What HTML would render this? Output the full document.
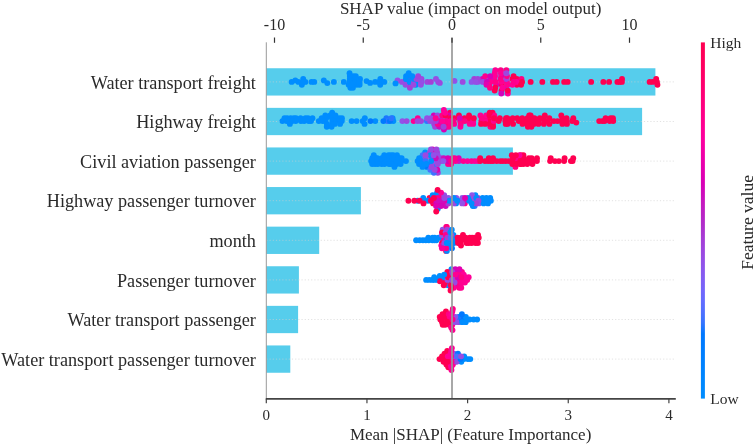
<!DOCTYPE html>
<html><head><meta charset="utf-8"><style>
html,body{margin:0;padding:0;background:#fff;width:754px;height:445px;overflow:hidden}
svg{display:block;filter:blur(0.35px)}
text{font-family:"Liberation Serif",serif;fill:#2a2a2a}
</style></head><body>
<svg width="754" height="445" viewBox="0 0 754 445">
<defs><linearGradient id="cb" x1="0" y1="0" x2="0" y2="1"><stop offset="0.000" stop-color="#ff0051"/><stop offset="0.030" stop-color="#ff0058"/><stop offset="0.061" stop-color="#ff005f"/><stop offset="0.091" stop-color="#ff0067"/><stop offset="0.121" stop-color="#ff0070"/><stop offset="0.152" stop-color="#ff0078"/><stop offset="0.182" stop-color="#ff0082"/><stop offset="0.212" stop-color="#ff008b"/><stop offset="0.242" stop-color="#ff0096"/><stop offset="0.273" stop-color="#fc009f"/><stop offset="0.303" stop-color="#f400a5"/><stop offset="0.333" stop-color="#eb00ab"/><stop offset="0.364" stop-color="#e200b1"/><stop offset="0.394" stop-color="#d900b6"/><stop offset="0.424" stop-color="#ce0cbc"/><stop offset="0.455" stop-color="#c41ac0"/><stop offset="0.485" stop-color="#b824c5"/><stop offset="0.515" stop-color="#af2fcb"/><stop offset="0.545" stop-color="#a73bd4"/><stop offset="0.576" stop-color="#9f45dd"/><stop offset="0.606" stop-color="#964ee5"/><stop offset="0.636" stop-color="#8c57ed"/><stop offset="0.667" stop-color="#805ff4"/><stop offset="0.697" stop-color="#7366fb"/><stop offset="0.727" stop-color="#636cff"/><stop offset="0.758" stop-color="#4f70ff"/><stop offset="0.788" stop-color="#3574ff"/><stop offset="0.818" stop-color="#0078ff"/><stop offset="0.848" stop-color="#007bff"/><stop offset="0.879" stop-color="#007fff"/><stop offset="0.909" stop-color="#0082ff"/><stop offset="0.939" stop-color="#0086ff"/><stop offset="0.970" stop-color="#0089ff"/><stop offset="1.000" stop-color="#008dff"/><stop offset="1" stop-color="#008dff"/></linearGradient></defs>
<rect x="266.3" y="68.25" width="389.10" height="27.3" fill="#56cdec"/>
<line x1="266.3" y1="81.90" x2="675.5" y2="81.90" stroke="#cfcfcf" stroke-width="0.6" stroke-dasharray="1.2 2"/>
<rect x="266.3" y="107.85" width="375.80" height="27.3" fill="#56cdec"/>
<line x1="266.3" y1="121.50" x2="675.5" y2="121.50" stroke="#cfcfcf" stroke-width="0.6" stroke-dasharray="1.2 2"/>
<rect x="266.3" y="147.45" width="246.60" height="27.3" fill="#56cdec"/>
<line x1="266.3" y1="161.10" x2="675.5" y2="161.10" stroke="#cfcfcf" stroke-width="0.6" stroke-dasharray="1.2 2"/>
<rect x="266.3" y="187.05" width="94.60" height="27.3" fill="#56cdec"/>
<line x1="266.3" y1="200.70" x2="675.5" y2="200.70" stroke="#cfcfcf" stroke-width="0.6" stroke-dasharray="1.2 2"/>
<rect x="266.3" y="226.65" width="52.90" height="27.3" fill="#56cdec"/>
<line x1="266.3" y1="240.30" x2="675.5" y2="240.30" stroke="#cfcfcf" stroke-width="0.6" stroke-dasharray="1.2 2"/>
<rect x="266.3" y="266.25" width="32.60" height="27.3" fill="#56cdec"/>
<line x1="266.3" y1="279.90" x2="675.5" y2="279.90" stroke="#cfcfcf" stroke-width="0.6" stroke-dasharray="1.2 2"/>
<rect x="266.3" y="305.85" width="31.80" height="27.3" fill="#56cdec"/>
<line x1="266.3" y1="319.50" x2="675.5" y2="319.50" stroke="#cfcfcf" stroke-width="0.6" stroke-dasharray="1.2 2"/>
<rect x="266.3" y="345.45" width="24.00" height="27.3" fill="#56cdec"/>
<line x1="266.3" y1="359.10" x2="675.5" y2="359.10" stroke="#cfcfcf" stroke-width="0.6" stroke-dasharray="1.2 2"/>
<circle cx="451.97" cy="248.25" r="2.95" fill="#0078ff"/>
<circle cx="444.87" cy="240.30" r="2.95" fill="#9351e8"/>
<circle cx="430.53" cy="164.00" r="2.95" fill="#1a77ff"/>
<circle cx="531.64" cy="158.20" r="2.95" fill="#ff0051"/>
<circle cx="474.77" cy="161.10" r="2.95" fill="#fe009d"/>
<circle cx="446.79" cy="126.70" r="2.95" fill="#d900b6"/>
<circle cx="454.16" cy="123.90" r="2.95" fill="#ff0096"/>
<circle cx="474.21" cy="79.00" r="2.95" fill="#a53fd7"/>
<circle cx="494.05" cy="79.00" r="2.95" fill="#fe009d"/>
<circle cx="314.26" cy="81.90" r="2.95" fill="#008dff"/>
<circle cx="490.37" cy="126.70" r="2.95" fill="#ff0085"/>
<circle cx="532.84" cy="161.10" r="2.95" fill="#ff0051"/>
<circle cx="458.96" cy="115.50" r="2.95" fill="#ff0051"/>
<circle cx="493.12" cy="126.70" r="2.95" fill="#ff0051"/>
<circle cx="458.87" cy="274.60" r="2.95" fill="#ff0082"/>
<circle cx="421.15" cy="158.20" r="2.95" fill="#008dff"/>
<circle cx="452.36" cy="158.20" r="2.95" fill="#ff0096"/>
<circle cx="458.77" cy="322.15" r="2.95" fill="#994be2"/>
<circle cx="485.92" cy="79.00" r="2.95" fill="#964ee5"/>
<circle cx="448.59" cy="245.60" r="2.95" fill="#a242da"/>
<circle cx="410.53" cy="84.80" r="2.95" fill="#008dff"/>
<circle cx="456.06" cy="285.20" r="2.95" fill="#ff0051"/>
<circle cx="379.24" cy="161.10" r="2.95" fill="#008dff"/>
<circle cx="440.86" cy="158.20" r="2.95" fill="#a242da"/>
<circle cx="421.51" cy="79.00" r="2.95" fill="#9c48e0"/>
<circle cx="501.87" cy="84.80" r="2.95" fill="#ff0051"/>
<circle cx="437.04" cy="152.40" r="2.95" fill="#a242da"/>
<circle cx="603.35" cy="81.90" r="2.95" fill="#ff0051"/>
<circle cx="339.22" cy="121.10" r="2.95" fill="#008dff"/>
<circle cx="469.71" cy="123.90" r="2.95" fill="#ff0096"/>
<circle cx="461.41" cy="240.30" r="2.95" fill="#ff0051"/>
<circle cx="469.06" cy="115.50" r="2.95" fill="#ff0051"/>
<circle cx="455.25" cy="319.50" r="2.95" fill="#cb11bd"/>
<circle cx="490.58" cy="79.00" r="2.95" fill="#cb11bd"/>
<circle cx="528.95" cy="121.10" r="2.95" fill="#ff0051"/>
<circle cx="350.38" cy="87.70" r="2.95" fill="#008dff"/>
<circle cx="442.94" cy="240.30" r="2.95" fill="#8f54ea"/>
<circle cx="523.43" cy="155.30" r="2.95" fill="#ff0051"/>
<circle cx="445.66" cy="203.40" r="2.95" fill="#ff0099"/>
<circle cx="591.13" cy="81.90" r="2.95" fill="#ff0051"/>
<circle cx="456.09" cy="203.40" r="2.95" fill="#008dff"/>
<circle cx="396.67" cy="164.00" r="2.95" fill="#008dff"/>
<circle cx="493.05" cy="158.20" r="2.95" fill="#ff0051"/>
<circle cx="448.69" cy="364.60" r="2.95" fill="#ff0092"/>
<circle cx="454.54" cy="361.85" r="2.95" fill="#ff0085"/>
<circle cx="440.34" cy="319.50" r="2.95" fill="#ff0051"/>
<circle cx="433.51" cy="164.00" r="2.95" fill="#9c48e0"/>
<circle cx="375.29" cy="121.10" r="2.95" fill="#008dff"/>
<circle cx="496.72" cy="161.10" r="2.95" fill="#ff0051"/>
<circle cx="619.61" cy="81.90" r="2.95" fill="#ff0051"/>
<circle cx="482.42" cy="79.00" r="2.95" fill="#e200b1"/>
<circle cx="282.41" cy="121.10" r="2.95" fill="#008dff"/>
<circle cx="450.68" cy="274.60" r="2.95" fill="#008dff"/>
<circle cx="443.92" cy="129.50" r="2.95" fill="#d900b6"/>
<circle cx="496.21" cy="84.80" r="2.95" fill="#dc00b5"/>
<circle cx="332.31" cy="121.10" r="2.95" fill="#008dff"/>
<circle cx="382.03" cy="161.10" r="2.95" fill="#008dff"/>
<circle cx="475.38" cy="195.30" r="2.95" fill="#008dff"/>
<circle cx="353.11" cy="79.00" r="2.95" fill="#008dff"/>
<circle cx="433.60" cy="166.90" r="2.95" fill="#8f54ea"/>
<circle cx="477.95" cy="198.00" r="2.95" fill="#a242da"/>
<circle cx="482.58" cy="198.00" r="2.95" fill="#008dff"/>
<circle cx="442.86" cy="359.10" r="2.95" fill="#ff0051"/>
<circle cx="527.42" cy="123.90" r="2.95" fill="#ff0051"/>
<circle cx="464.79" cy="203.40" r="2.95" fill="#ff0092"/>
<circle cx="562.45" cy="118.30" r="2.95" fill="#ff0051"/>
<circle cx="494.77" cy="73.20" r="2.95" fill="#ff0092"/>
<circle cx="348.66" cy="84.80" r="2.95" fill="#008dff"/>
<circle cx="478.76" cy="237.65" r="2.95" fill="#ff0051"/>
<circle cx="516.80" cy="79.00" r="2.95" fill="#ff0051"/>
<circle cx="562.42" cy="123.90" r="2.95" fill="#ff0051"/>
<circle cx="454.75" cy="237.65" r="2.95" fill="#008dff"/>
<circle cx="452.80" cy="308.90" r="2.95" fill="#ff0085"/>
<circle cx="443.78" cy="158.20" r="2.95" fill="#cb11bd"/>
<circle cx="447.14" cy="282.55" r="2.95" fill="#9c48e0"/>
<circle cx="440.30" cy="278.60" r="2.95" fill="#ff0051"/>
<circle cx="397.52" cy="80.50" r="2.95" fill="#9351e8"/>
<circle cx="656.91" cy="81.90" r="2.95" fill="#ff0051"/>
<circle cx="466.59" cy="242.95" r="2.95" fill="#ff0051"/>
<circle cx="381.63" cy="164.00" r="2.95" fill="#008dff"/>
<circle cx="460.22" cy="121.10" r="2.95" fill="#ff0088"/>
<circle cx="380.21" cy="84.80" r="2.95" fill="#008dff"/>
<circle cx="484.71" cy="118.30" r="2.95" fill="#ff0051"/>
<circle cx="375.18" cy="81.90" r="2.95" fill="#008dff"/>
<circle cx="290.66" cy="118.30" r="2.95" fill="#008dff"/>
<circle cx="423.28" cy="200.70" r="2.95" fill="#ff0051"/>
<circle cx="371.14" cy="161.10" r="2.95" fill="#008dff"/>
<circle cx="413.58" cy="121.10" r="2.95" fill="#ff0092"/>
<circle cx="444.44" cy="356.35" r="2.95" fill="#ff0051"/>
<circle cx="445.69" cy="314.20" r="2.95" fill="#fe009d"/>
<circle cx="385.35" cy="161.10" r="2.95" fill="#008dff"/>
<circle cx="552.99" cy="81.90" r="2.95" fill="#ff0051"/>
<circle cx="433.80" cy="115.50" r="2.95" fill="#d500b8"/>
<circle cx="442.01" cy="242.95" r="2.95" fill="#ff0051"/>
<circle cx="516.81" cy="84.80" r="2.95" fill="#ff0051"/>
<circle cx="472.02" cy="195.30" r="2.95" fill="#8f54ea"/>
<circle cx="353.28" cy="81.90" r="2.95" fill="#008dff"/>
<circle cx="312.47" cy="118.30" r="2.95" fill="#008dff"/>
<circle cx="513.61" cy="76.10" r="2.95" fill="#ff0051"/>
<circle cx="448.01" cy="164.00" r="2.95" fill="#ff0092"/>
<circle cx="426.91" cy="121.10" r="2.95" fill="#3574ff"/>
<circle cx="477.13" cy="319.50" r="2.95" fill="#008dff"/>
<circle cx="477.65" cy="81.90" r="2.95" fill="#994be2"/>
<circle cx="446.20" cy="227.05" r="2.95" fill="#ff008f"/>
<circle cx="341.93" cy="118.30" r="2.95" fill="#008dff"/>
<circle cx="472.11" cy="237.65" r="2.95" fill="#ff0051"/>
<circle cx="359.61" cy="84.80" r="2.95" fill="#008dff"/>
<circle cx="539.79" cy="118.30" r="2.95" fill="#ff0051"/>
<circle cx="506.95" cy="81.90" r="2.95" fill="#ff0085"/>
<circle cx="490.86" cy="200.70" r="2.95" fill="#008dff"/>
<circle cx="481.39" cy="121.10" r="2.95" fill="#ff0051"/>
<circle cx="561.31" cy="115.50" r="2.95" fill="#ff0051"/>
<circle cx="417.66" cy="200.70" r="2.95" fill="#008dff"/>
<circle cx="402.42" cy="121.10" r="2.95" fill="#9351e8"/>
<circle cx="469.82" cy="237.65" r="2.95" fill="#ff0051"/>
<circle cx="454.09" cy="353.60" r="2.95" fill="#8f54ea"/>
<circle cx="318.79" cy="121.10" r="2.95" fill="#008dff"/>
<circle cx="452.49" cy="359.10" r="2.95" fill="#ff008f"/>
<circle cx="515.42" cy="166.90" r="2.95" fill="#ff0082"/>
<circle cx="452.32" cy="324.80" r="2.95" fill="#ff0092"/>
<circle cx="576.28" cy="122.60" r="2.95" fill="#ff0051"/>
<circle cx="455.78" cy="277.25" r="2.95" fill="#dc00b5"/>
<circle cx="492.55" cy="112.70" r="2.95" fill="#ff0051"/>
<circle cx="499.82" cy="118.30" r="2.95" fill="#ff0051"/>
<circle cx="468.67" cy="277.25" r="2.95" fill="#ff0096"/>
<circle cx="452.91" cy="200.70" r="2.95" fill="#9c48e0"/>
<circle cx="495.33" cy="70.30" r="2.95" fill="#ff0092"/>
<circle cx="457.96" cy="353.60" r="2.95" fill="#007aff"/>
<circle cx="444.71" cy="359.10" r="2.95" fill="#ff0051"/>
<circle cx="392.59" cy="118.30" r="2.95" fill="#008dff"/>
<circle cx="445.98" cy="237.65" r="2.95" fill="#008dff"/>
<circle cx="444.53" cy="353.60" r="2.95" fill="#ff0051"/>
<circle cx="460.40" cy="126.70" r="2.95" fill="#ff0099"/>
<circle cx="429.57" cy="198.00" r="2.95" fill="#ff0051"/>
<circle cx="432.44" cy="240.30" r="2.95" fill="#008dff"/>
<circle cx="450.98" cy="245.60" r="2.95" fill="#008dff"/>
<circle cx="441.16" cy="237.65" r="2.95" fill="#fe009d"/>
<circle cx="442.21" cy="198.00" r="2.95" fill="#ff008b"/>
<circle cx="519.76" cy="158.20" r="2.95" fill="#ff0051"/>
<circle cx="461.58" cy="316.85" r="2.95" fill="#9c48e0"/>
<circle cx="434.13" cy="123.90" r="2.95" fill="#a242da"/>
<circle cx="303.20" cy="79.00" r="2.95" fill="#008dff"/>
<circle cx="439.78" cy="275.95" r="2.95" fill="#008dff"/>
<circle cx="432.29" cy="279.90" r="2.95" fill="#008dff"/>
<circle cx="464.46" cy="118.30" r="2.95" fill="#ff0051"/>
<circle cx="325.37" cy="121.10" r="2.95" fill="#008dff"/>
<circle cx="447.11" cy="353.60" r="2.95" fill="#ff0051"/>
<circle cx="396.50" cy="158.20" r="2.95" fill="#008dff"/>
<circle cx="564.17" cy="81.90" r="2.95" fill="#ff0051"/>
<circle cx="564.60" cy="158.20" r="2.95" fill="#ff0051"/>
<circle cx="417.80" cy="81.90" r="2.95" fill="#008dff"/>
<circle cx="458.90" cy="161.10" r="2.95" fill="#c716bf"/>
<circle cx="439.74" cy="316.85" r="2.95" fill="#ff0051"/>
<circle cx="490.73" cy="161.10" r="2.95" fill="#ff0051"/>
<circle cx="447.22" cy="350.85" r="2.95" fill="#ff0051"/>
<circle cx="457.39" cy="319.50" r="2.95" fill="#9351e8"/>
<circle cx="657.44" cy="84.80" r="2.95" fill="#ff0051"/>
<circle cx="519.15" cy="161.10" r="2.95" fill="#ff0051"/>
<circle cx="441.86" cy="195.30" r="2.95" fill="#ff0085"/>
<circle cx="300.89" cy="121.10" r="2.95" fill="#008dff"/>
<circle cx="445.65" cy="206.10" r="2.95" fill="#ce0cbc"/>
<circle cx="366.55" cy="81.10" r="2.95" fill="#008dff"/>
<circle cx="441.30" cy="245.60" r="2.95" fill="#ff0096"/>
<circle cx="512.33" cy="164.00" r="2.95" fill="#ff0051"/>
<circle cx="334.32" cy="121.10" r="2.95" fill="#008dff"/>
<circle cx="375.64" cy="158.20" r="2.95" fill="#008dff"/>
<circle cx="454.97" cy="279.90" r="2.95" fill="#8f54ea"/>
<circle cx="435.09" cy="126.70" r="2.95" fill="#a242da"/>
<circle cx="564.11" cy="161.10" r="2.95" fill="#ff0051"/>
<circle cx="432.66" cy="237.65" r="2.95" fill="#008dff"/>
<circle cx="405.42" cy="81.90" r="2.95" fill="#008dff"/>
<circle cx="450.67" cy="353.60" r="2.95" fill="#ff0092"/>
<circle cx="422.92" cy="240.30" r="2.95" fill="#008dff"/>
<circle cx="467.85" cy="359.10" r="2.95" fill="#008dff"/>
<circle cx="501.54" cy="90.60" r="2.95" fill="#ff0051"/>
<circle cx="468.75" cy="121.10" r="2.95" fill="#ff0088"/>
<circle cx="456.20" cy="359.10" r="2.95" fill="#8f54ea"/>
<circle cx="425.17" cy="152.40" r="2.95" fill="#008dff"/>
<circle cx="523.13" cy="161.10" r="2.95" fill="#ff0051"/>
<circle cx="463.91" cy="359.10" r="2.95" fill="#008dff"/>
<circle cx="473.10" cy="240.30" r="2.95" fill="#ff0051"/>
<circle cx="460.27" cy="200.70" r="2.95" fill="#a242da"/>
<circle cx="461.47" cy="274.60" r="2.95" fill="#ff0096"/>
<circle cx="445.95" cy="311.55" r="2.95" fill="#ff0051"/>
<circle cx="450.10" cy="112.70" r="2.95" fill="#ff0051"/>
<circle cx="566.57" cy="118.30" r="2.95" fill="#ff0051"/>
<circle cx="492.96" cy="123.90" r="2.95" fill="#ff0051"/>
<circle cx="356.78" cy="84.80" r="2.95" fill="#008dff"/>
<circle cx="364.84" cy="118.30" r="2.95" fill="#008dff"/>
<circle cx="506.31" cy="79.00" r="2.95" fill="#a242da"/>
<circle cx="326.18" cy="118.30" r="2.95" fill="#008dff"/>
<circle cx="451.44" cy="370.10" r="2.95" fill="#ff0092"/>
<circle cx="447.33" cy="240.30" r="2.95" fill="#008dff"/>
<circle cx="441.18" cy="203.40" r="2.95" fill="#df00b3"/>
<circle cx="507.52" cy="123.90" r="2.95" fill="#ff0051"/>
<circle cx="460.66" cy="285.20" r="2.95" fill="#ff0096"/>
<circle cx="482.40" cy="200.70" r="2.95" fill="#008dff"/>
<circle cx="433.47" cy="152.40" r="2.95" fill="#9f45dd"/>
<circle cx="457.38" cy="285.20" r="2.95" fill="#dc00b5"/>
<circle cx="453.43" cy="235.00" r="2.95" fill="#008dff"/>
<circle cx="453.89" cy="287.85" r="2.95" fill="#ff0096"/>
<circle cx="430.07" cy="121.10" r="2.95" fill="#9f45dd"/>
<circle cx="381.73" cy="158.20" r="2.95" fill="#008dff"/>
<circle cx="464.16" cy="200.70" r="2.95" fill="#cb11bd"/>
<circle cx="553.86" cy="121.10" r="2.95" fill="#ff0051"/>
<circle cx="494.65" cy="90.60" r="2.95" fill="#ff0051"/>
<circle cx="538.90" cy="121.10" r="2.95" fill="#ff0051"/>
<circle cx="439.26" cy="118.30" r="2.95" fill="#9f45dd"/>
<circle cx="465.65" cy="319.50" r="2.95" fill="#008dff"/>
<circle cx="453.79" cy="359.10" r="2.95" fill="#fe009d"/>
<circle cx="477.99" cy="161.10" r="2.95" fill="#ff0096"/>
<circle cx="434.25" cy="161.10" r="2.95" fill="#8f54ea"/>
<circle cx="477.90" cy="242.95" r="2.95" fill="#ff0051"/>
<circle cx="397.00" cy="155.30" r="2.95" fill="#008dff"/>
<circle cx="531.99" cy="118.30" r="2.95" fill="#ff0051"/>
<circle cx="461.32" cy="361.85" r="2.95" fill="#008dff"/>
<circle cx="567.66" cy="81.90" r="2.95" fill="#ff0051"/>
<circle cx="513.06" cy="123.90" r="2.95" fill="#ff0051"/>
<circle cx="455.47" cy="161.10" r="2.95" fill="#ff0092"/>
<circle cx="354.77" cy="79.00" r="2.95" fill="#008dff"/>
<circle cx="506.00" cy="118.30" r="2.95" fill="#ff0051"/>
<circle cx="409.94" cy="79.00" r="2.95" fill="#a53fd7"/>
<circle cx="473.57" cy="200.70" r="2.95" fill="#008dff"/>
<circle cx="444.22" cy="195.30" r="2.95" fill="#964ee5"/>
<circle cx="500.74" cy="70.30" r="2.95" fill="#ff0088"/>
<circle cx="523.58" cy="121.10" r="2.95" fill="#ff0051"/>
<circle cx="441.86" cy="319.50" r="2.95" fill="#ff0051"/>
<circle cx="293.89" cy="118.30" r="2.95" fill="#008dff"/>
<circle cx="446.25" cy="316.85" r="2.95" fill="#ff0051"/>
<circle cx="467.16" cy="279.90" r="2.95" fill="#ff008f"/>
<circle cx="489.55" cy="118.30" r="2.95" fill="#ff0082"/>
<circle cx="461.34" cy="279.90" r="2.95" fill="#ff0088"/>
<circle cx="561.50" cy="121.10" r="2.95" fill="#ff0051"/>
<circle cx="448.73" cy="314.20" r="2.95" fill="#ff0085"/>
<circle cx="599.20" cy="121.10" r="2.95" fill="#ff0051"/>
<circle cx="386.36" cy="118.30" r="2.95" fill="#1a77ff"/>
<circle cx="480.46" cy="115.50" r="2.95" fill="#ff0096"/>
<circle cx="373.93" cy="161.10" r="2.95" fill="#008dff"/>
<circle cx="447.05" cy="319.50" r="2.95" fill="#ff0051"/>
<circle cx="511.80" cy="155.30" r="2.95" fill="#ff0051"/>
<circle cx="517.21" cy="118.30" r="2.95" fill="#ff0051"/>
<circle cx="325.31" cy="115.50" r="2.95" fill="#008dff"/>
<circle cx="527.90" cy="126.70" r="2.95" fill="#ff0051"/>
<circle cx="514.82" cy="161.10" r="2.95" fill="#ff0051"/>
<circle cx="446.06" cy="250.90" r="2.95" fill="#ff0051"/>
<circle cx="443.54" cy="361.85" r="2.95" fill="#ff0051"/>
<circle cx="387.31" cy="121.10" r="2.95" fill="#3574ff"/>
<circle cx="390.64" cy="164.00" r="2.95" fill="#008dff"/>
<circle cx="417.79" cy="118.30" r="2.95" fill="#ff0092"/>
<circle cx="438.20" cy="81.90" r="2.95" fill="#9c48e0"/>
<circle cx="321.64" cy="118.30" r="2.95" fill="#008dff"/>
<circle cx="458.29" cy="282.55" r="2.95" fill="#ff0085"/>
<circle cx="530.67" cy="81.90" r="2.95" fill="#ff0051"/>
<circle cx="447.04" cy="322.15" r="2.95" fill="#ff0051"/>
<circle cx="451.08" cy="164.00" r="2.95" fill="#ff0088"/>
<circle cx="349.83" cy="79.00" r="2.95" fill="#008dff"/>
<circle cx="334.85" cy="118.30" r="2.95" fill="#008dff"/>
<circle cx="454.29" cy="118.30" r="2.95" fill="#ff0051"/>
<circle cx="444.29" cy="112.70" r="2.95" fill="#ff0085"/>
<circle cx="505.32" cy="121.10" r="2.95" fill="#ff0051"/>
<circle cx="436.37" cy="195.30" r="2.95" fill="#008dff"/>
<circle cx="437.51" cy="115.50" r="2.95" fill="#9c48e0"/>
<circle cx="405.54" cy="84.80" r="2.95" fill="#994be2"/>
<circle cx="543.86" cy="123.90" r="2.95" fill="#ff0051"/>
<circle cx="444.84" cy="229.70" r="2.95" fill="#008dff"/>
<circle cx="375.07" cy="164.00" r="2.95" fill="#008dff"/>
<circle cx="473.19" cy="123.90" r="2.95" fill="#ff0092"/>
<circle cx="433.15" cy="203.40" r="2.95" fill="#ff0051"/>
<circle cx="454.25" cy="240.30" r="2.95" fill="#008dff"/>
<circle cx="488.74" cy="121.10" r="2.95" fill="#ff0051"/>
<circle cx="304.19" cy="121.10" r="2.95" fill="#008dff"/>
<circle cx="461.91" cy="319.50" r="2.95" fill="#0078ff"/>
<circle cx="478.85" cy="203.40" r="2.95" fill="#964ee5"/>
<circle cx="471.52" cy="81.90" r="2.95" fill="#8f54ea"/>
<circle cx="451.23" cy="322.15" r="2.95" fill="#ff008b"/>
<circle cx="473.66" cy="319.50" r="2.95" fill="#008dff"/>
<circle cx="472.21" cy="198.00" r="2.95" fill="#994be2"/>
<circle cx="493.07" cy="161.10" r="2.95" fill="#ff0051"/>
<circle cx="550.73" cy="158.20" r="2.95" fill="#ff0051"/>
<circle cx="451.83" cy="282.55" r="2.95" fill="#ff0051"/>
<circle cx="501.24" cy="76.10" r="2.95" fill="#dc00b5"/>
<circle cx="451.04" cy="287.85" r="2.95" fill="#ff0051"/>
<circle cx="425.56" cy="158.20" r="2.95" fill="#994be2"/>
<circle cx="428.28" cy="237.65" r="2.95" fill="#008dff"/>
<circle cx="409.70" cy="81.90" r="2.95" fill="#008dff"/>
<circle cx="311.01" cy="121.10" r="2.95" fill="#008dff"/>
<circle cx="520.18" cy="164.00" r="2.95" fill="#ff0051"/>
<circle cx="458.74" cy="158.20" r="2.95" fill="#df00b3"/>
<circle cx="300.56" cy="118.30" r="2.95" fill="#008dff"/>
<circle cx="438.60" cy="237.65" r="2.95" fill="#008dff"/>
<circle cx="459.76" cy="118.30" r="2.95" fill="#d900b6"/>
<circle cx="308.67" cy="121.10" r="2.95" fill="#008dff"/>
<circle cx="445.10" cy="279.90" r="2.95" fill="#008dff"/>
<circle cx="400.45" cy="161.10" r="2.95" fill="#008dff"/>
<circle cx="355.42" cy="81.90" r="2.95" fill="#008dff"/>
<circle cx="305.41" cy="81.90" r="2.95" fill="#008dff"/>
<circle cx="544.51" cy="121.10" r="2.95" fill="#ff0051"/>
<circle cx="456.33" cy="198.00" r="2.95" fill="#9351e8"/>
<circle cx="360.01" cy="79.00" r="2.95" fill="#008dff"/>
<circle cx="399.45" cy="158.20" r="2.95" fill="#008dff"/>
<circle cx="445.44" cy="361.85" r="2.95" fill="#ff0051"/>
<circle cx="441.93" cy="235.00" r="2.95" fill="#8f54ea"/>
<circle cx="422.66" cy="155.30" r="2.95" fill="#3f73ff"/>
<circle cx="327.30" cy="83.10" r="2.95" fill="#008dff"/>
<circle cx="464.34" cy="279.90" r="2.95" fill="#fe009d"/>
<circle cx="556.66" cy="81.90" r="2.95" fill="#ff0051"/>
<circle cx="451.48" cy="316.85" r="2.95" fill="#ff008f"/>
<circle cx="379.17" cy="81.90" r="2.95" fill="#008dff"/>
<circle cx="434.43" cy="240.30" r="2.95" fill="#008dff"/>
<circle cx="488.08" cy="161.10" r="2.95" fill="#ff0051"/>
<circle cx="421.51" cy="81.90" r="2.95" fill="#a53fd7"/>
<circle cx="536.90" cy="161.10" r="2.95" fill="#ff0051"/>
<circle cx="465.83" cy="316.85" r="2.95" fill="#008dff"/>
<circle cx="364.55" cy="123.90" r="2.95" fill="#008dff"/>
<circle cx="437.12" cy="192.60" r="2.95" fill="#008dff"/>
<circle cx="452.90" cy="364.60" r="2.95" fill="#ff0092"/>
<circle cx="372.21" cy="164.00" r="2.95" fill="#008dff"/>
<circle cx="425.81" cy="240.30" r="2.95" fill="#008dff"/>
<circle cx="427.30" cy="81.90" r="2.95" fill="#9f45dd"/>
<circle cx="470.31" cy="359.10" r="2.95" fill="#008dff"/>
<circle cx="443.84" cy="109.90" r="2.95" fill="#ff0099"/>
<circle cx="477.83" cy="79.00" r="2.95" fill="#9f45dd"/>
<circle cx="486.40" cy="200.70" r="2.95" fill="#008dff"/>
<circle cx="532.22" cy="123.90" r="2.95" fill="#ff0051"/>
<circle cx="290.65" cy="121.10" r="2.95" fill="#008dff"/>
<circle cx="414.12" cy="81.90" r="2.95" fill="#a242da"/>
<circle cx="476.95" cy="240.30" r="2.95" fill="#ff0051"/>
<circle cx="446.89" cy="274.60" r="2.95" fill="#ff0051"/>
<circle cx="401.27" cy="161.10" r="2.95" fill="#008dff"/>
<circle cx="495.32" cy="87.70" r="2.95" fill="#ff0051"/>
<circle cx="370.14" cy="82.90" r="2.95" fill="#008dff"/>
<circle cx="308.02" cy="118.30" r="2.95" fill="#008dff"/>
<circle cx="602.32" cy="121.10" r="2.95" fill="#ff0051"/>
<circle cx="442.08" cy="322.15" r="2.95" fill="#ff0051"/>
<circle cx="534.35" cy="121.10" r="2.95" fill="#ff0051"/>
<circle cx="462.14" cy="203.40" r="2.95" fill="#9351e8"/>
<circle cx="506.98" cy="76.10" r="2.95" fill="#ff0085"/>
<circle cx="393.31" cy="121.10" r="2.95" fill="#008dff"/>
<circle cx="543.49" cy="118.30" r="2.95" fill="#ff0051"/>
<circle cx="461.00" cy="245.60" r="2.95" fill="#ff0051"/>
<circle cx="622.02" cy="79.00" r="2.95" fill="#ff0051"/>
<circle cx="486.16" cy="115.50" r="2.95" fill="#ff0092"/>
<circle cx="447.97" cy="285.20" r="2.95" fill="#008dff"/>
<circle cx="442.72" cy="324.80" r="2.95" fill="#ff0051"/>
<circle cx="500.95" cy="73.20" r="2.95" fill="#ff0096"/>
<circle cx="515.36" cy="158.20" r="2.95" fill="#ff0088"/>
<circle cx="332.17" cy="112.70" r="2.95" fill="#008dff"/>
<circle cx="534.47" cy="118.30" r="2.95" fill="#ff0051"/>
<circle cx="349.44" cy="81.90" r="2.95" fill="#008dff"/>
<circle cx="444.48" cy="245.60" r="2.95" fill="#008dff"/>
<circle cx="343.80" cy="81.90" r="2.95" fill="#008dff"/>
<circle cx="393.19" cy="155.30" r="2.95" fill="#008dff"/>
<circle cx="292.13" cy="121.10" r="2.95" fill="#008dff"/>
<circle cx="542.33" cy="81.90" r="2.95" fill="#ff0051"/>
<circle cx="447.66" cy="235.00" r="2.95" fill="#1a77ff"/>
<circle cx="421.14" cy="161.10" r="2.95" fill="#008dff"/>
<circle cx="507.48" cy="121.10" r="2.95" fill="#ff0051"/>
<circle cx="437.17" cy="203.40" r="2.95" fill="#d500b8"/>
<circle cx="558.87" cy="161.10" r="2.95" fill="#ff0051"/>
<circle cx="322.68" cy="121.10" r="2.95" fill="#008dff"/>
<circle cx="421.05" cy="121.10" r="2.95" fill="#9f45dd"/>
<circle cx="409.91" cy="87.70" r="2.95" fill="#a53fd7"/>
<circle cx="437.69" cy="155.30" r="2.95" fill="#964ee5"/>
<circle cx="429.92" cy="152.40" r="2.95" fill="#9f45dd"/>
<circle cx="465.65" cy="237.65" r="2.95" fill="#ff0051"/>
<circle cx="452.12" cy="242.95" r="2.95" fill="#008dff"/>
<circle cx="460.67" cy="237.65" r="2.95" fill="#ff0051"/>
<circle cx="442.68" cy="229.70" r="2.95" fill="#9351e8"/>
<circle cx="298.42" cy="81.90" r="2.95" fill="#008dff"/>
<circle cx="521.47" cy="79.00" r="2.95" fill="#ff0082"/>
<circle cx="458.47" cy="316.85" r="2.95" fill="#1a77ff"/>
<circle cx="408.40" cy="200.70" r="2.95" fill="#ff0051"/>
<circle cx="512.53" cy="79.00" r="2.95" fill="#ff0051"/>
<circle cx="451.33" cy="350.85" r="2.95" fill="#ff0099"/>
<circle cx="426.98" cy="166.90" r="2.95" fill="#0078ff"/>
<circle cx="400.63" cy="164.00" r="2.95" fill="#008dff"/>
<circle cx="457.50" cy="237.65" r="2.95" fill="#ff0051"/>
<circle cx="453.88" cy="242.95" r="2.95" fill="#008dff"/>
<circle cx="458.03" cy="242.95" r="2.95" fill="#ff0051"/>
<circle cx="301.86" cy="84.80" r="2.95" fill="#008dff"/>
<circle cx="457.19" cy="279.90" r="2.95" fill="#ff008b"/>
<circle cx="522.22" cy="158.20" r="2.95" fill="#ff0051"/>
<circle cx="448.55" cy="359.10" r="2.95" fill="#ff0051"/>
<circle cx="413.97" cy="79.00" r="2.95" fill="#008dff"/>
<circle cx="434.71" cy="237.65" r="2.95" fill="#008dff"/>
<circle cx="416.13" cy="240.30" r="2.95" fill="#008dff"/>
<circle cx="401.65" cy="158.20" r="2.95" fill="#008dff"/>
<circle cx="435.92" cy="166.90" r="2.95" fill="#3574ff"/>
<circle cx="463.42" cy="161.10" r="2.95" fill="#ff008f"/>
<circle cx="523.39" cy="164.00" r="2.95" fill="#ff0051"/>
<circle cx="440.75" cy="161.10" r="2.95" fill="#a242da"/>
<circle cx="523.71" cy="158.20" r="2.95" fill="#ff0051"/>
<circle cx="444.96" cy="282.55" r="2.95" fill="#ff0051"/>
<circle cx="437.84" cy="172.70" r="2.95" fill="#a242da"/>
<circle cx="384.22" cy="155.30" r="2.95" fill="#008dff"/>
<circle cx="287.12" cy="118.30" r="2.95" fill="#008dff"/>
<circle cx="380.35" cy="79.00" r="2.95" fill="#008dff"/>
<circle cx="295.33" cy="80.40" r="2.95" fill="#008dff"/>
<circle cx="394.69" cy="161.10" r="2.95" fill="#008dff"/>
<circle cx="452.52" cy="330.10" r="2.95" fill="#ff0092"/>
<circle cx="621.89" cy="81.90" r="2.95" fill="#ff0051"/>
<circle cx="446.60" cy="118.30" r="2.95" fill="#cb11bd"/>
<circle cx="549.38" cy="123.90" r="2.95" fill="#ff0051"/>
<circle cx="462.22" cy="322.15" r="2.95" fill="#008dff"/>
<circle cx="512.69" cy="118.30" r="2.95" fill="#ff0051"/>
<circle cx="449.78" cy="123.90" r="2.95" fill="#ff0092"/>
<circle cx="394.45" cy="166.90" r="2.95" fill="#008dff"/>
<circle cx="447.75" cy="319.50" r="2.95" fill="#ff0051"/>
<circle cx="489.52" cy="115.50" r="2.95" fill="#ff0051"/>
<circle cx="432.73" cy="149.50" r="2.95" fill="#e200b1"/>
<circle cx="455.27" cy="316.85" r="2.95" fill="#8f54ea"/>
<circle cx="437.82" cy="208.80" r="2.95" fill="#008dff"/>
<circle cx="516.59" cy="164.00" r="2.95" fill="#ff0051"/>
<circle cx="303.15" cy="81.90" r="2.95" fill="#008dff"/>
<circle cx="410.36" cy="76.10" r="2.95" fill="#008dff"/>
<circle cx="441.98" cy="232.35" r="2.95" fill="#ff0051"/>
<circle cx="459.21" cy="287.85" r="2.95" fill="#ff0085"/>
<circle cx="401.98" cy="81.90" r="2.95" fill="#994be2"/>
<circle cx="461.89" cy="314.20" r="2.95" fill="#0078ff"/>
<circle cx="406.10" cy="76.10" r="2.95" fill="#008dff"/>
<circle cx="462.69" cy="81.90" r="2.95" fill="#9c48e0"/>
<circle cx="617.40" cy="81.90" r="2.95" fill="#ff0051"/>
<circle cx="490.49" cy="81.90" r="2.95" fill="#ff008f"/>
<circle cx="466.13" cy="240.30" r="2.95" fill="#ff0051"/>
<circle cx="468.79" cy="242.95" r="2.95" fill="#ff0051"/>
<circle cx="448.04" cy="161.10" r="2.95" fill="#d500b8"/>
<circle cx="377.80" cy="164.00" r="2.95" fill="#008dff"/>
<circle cx="437.58" cy="279.90" r="2.95" fill="#008dff"/>
<circle cx="532.43" cy="164.00" r="2.95" fill="#ff0051"/>
<circle cx="420.92" cy="81.90" r="2.95" fill="#8f54ea"/>
<circle cx="482.69" cy="81.90" r="2.95" fill="#9c48e0"/>
<circle cx="446.80" cy="227.05" r="2.95" fill="#ff0082"/>
<circle cx="488.79" cy="158.20" r="2.95" fill="#ff0051"/>
<circle cx="572.58" cy="161.10" r="2.95" fill="#ff0051"/>
<circle cx="468.94" cy="118.30" r="2.95" fill="#ff0051"/>
<circle cx="384.26" cy="81.90" r="2.95" fill="#008dff"/>
<circle cx="448.33" cy="203.40" r="2.95" fill="#a53fd7"/>
<circle cx="506.34" cy="70.30" r="2.95" fill="#ff0085"/>
<circle cx="485.23" cy="76.10" r="2.95" fill="#ff008b"/>
<circle cx="419.36" cy="79.00" r="2.95" fill="#994be2"/>
<circle cx="449.03" cy="232.35" r="2.95" fill="#008dff"/>
<circle cx="461.96" cy="271.95" r="2.95" fill="#ff0088"/>
<circle cx="573.24" cy="158.20" r="2.95" fill="#ff0051"/>
<circle cx="522.25" cy="118.30" r="2.95" fill="#ff0051"/>
<circle cx="518.76" cy="121.10" r="2.95" fill="#ff0051"/>
<circle cx="464.90" cy="277.25" r="2.95" fill="#ff0096"/>
<circle cx="353.32" cy="76.10" r="2.95" fill="#008dff"/>
<circle cx="536.96" cy="158.20" r="2.95" fill="#ff0051"/>
<circle cx="464.21" cy="356.35" r="2.95" fill="#008dff"/>
<circle cx="446.85" cy="250.90" r="2.95" fill="#008dff"/>
<circle cx="405.96" cy="161.10" r="2.95" fill="#008dff"/>
<circle cx="446.83" cy="248.25" r="2.95" fill="#2a75ff"/>
<circle cx="478.05" cy="235.00" r="2.95" fill="#ff0051"/>
<circle cx="458.09" cy="277.25" r="2.95" fill="#d500b8"/>
<circle cx="426.15" cy="279.90" r="2.95" fill="#008dff"/>
<circle cx="449.75" cy="316.85" r="2.95" fill="#ff008b"/>
<circle cx="468.00" cy="198.00" r="2.95" fill="#008dff"/>
<circle cx="431.48" cy="158.20" r="2.95" fill="#a53fd7"/>
<circle cx="436.46" cy="161.10" r="2.95" fill="#8f54ea"/>
<circle cx="506.19" cy="87.70" r="2.95" fill="#ce0cbc"/>
<circle cx="291.64" cy="81.90" r="2.95" fill="#008dff"/>
<circle cx="419.71" cy="240.30" r="2.95" fill="#008dff"/>
<circle cx="550.08" cy="161.10" r="2.95" fill="#ff0051"/>
<circle cx="449.37" cy="324.80" r="2.95" fill="#ff0051"/>
<circle cx="349.82" cy="76.10" r="2.95" fill="#008dff"/>
<circle cx="352.92" cy="87.70" r="2.95" fill="#008dff"/>
<circle cx="486.93" cy="81.90" r="2.95" fill="#d500b8"/>
<circle cx="457.40" cy="271.95" r="2.95" fill="#ff008b"/>
<circle cx="520.87" cy="155.30" r="2.95" fill="#ff0051"/>
<circle cx="531.40" cy="126.70" r="2.95" fill="#ff0051"/>
<circle cx="656.19" cy="79.00" r="2.95" fill="#ff0051"/>
<circle cx="505.75" cy="123.90" r="2.95" fill="#ff0051"/>
<circle cx="451.59" cy="314.20" r="2.95" fill="#ff0099"/>
<circle cx="609.10" cy="81.90" r="2.95" fill="#ff0051"/>
<circle cx="429.22" cy="279.90" r="2.95" fill="#008dff"/>
<circle cx="436.42" cy="149.50" r="2.95" fill="#9f45dd"/>
<circle cx="444.11" cy="118.30" r="2.95" fill="#8f54ea"/>
<circle cx="446.39" cy="364.60" r="2.95" fill="#ff0051"/>
<circle cx="441.06" cy="192.60" r="2.95" fill="#ff0099"/>
<circle cx="522.52" cy="123.90" r="2.95" fill="#ff0051"/>
<circle cx="485.22" cy="121.10" r="2.95" fill="#ff008f"/>
<circle cx="442.06" cy="123.90" r="2.95" fill="#ce0cbc"/>
<circle cx="425.45" cy="161.10" r="2.95" fill="#3574ff"/>
<circle cx="443.34" cy="277.25" r="2.95" fill="#008dff"/>
<circle cx="511.90" cy="161.10" r="2.95" fill="#ff0051"/>
<circle cx="520.81" cy="164.00" r="2.95" fill="#ff0051"/>
<circle cx="448.35" cy="198.00" r="2.95" fill="#8f54ea"/>
<circle cx="439.82" cy="82.90" r="2.95" fill="#9c48e0"/>
<circle cx="485.17" cy="123.90" r="2.95" fill="#ff0051"/>
<circle cx="652.74" cy="81.90" r="2.95" fill="#ff0051"/>
<circle cx="434.19" cy="277.25" r="2.95" fill="#008dff"/>
<circle cx="377.34" cy="158.20" r="2.95" fill="#008dff"/>
<circle cx="351.65" cy="84.80" r="2.95" fill="#008dff"/>
<circle cx="489.24" cy="84.80" r="2.95" fill="#ff008b"/>
<circle cx="475.60" cy="81.90" r="2.95" fill="#964ee5"/>
<circle cx="430.60" cy="155.30" r="2.95" fill="#008dff"/>
<circle cx="454.74" cy="158.20" r="2.95" fill="#ff008b"/>
<circle cx="326.80" cy="126.70" r="2.95" fill="#008dff"/>
<circle cx="451.22" cy="327.45" r="2.95" fill="#ff0088"/>
<circle cx="437.71" cy="198.00" r="2.95" fill="#ff008b"/>
<circle cx="332.08" cy="123.90" r="2.95" fill="#008dff"/>
<circle cx="449.74" cy="115.50" r="2.95" fill="#d500b8"/>
<circle cx="512.40" cy="84.80" r="2.95" fill="#ff0099"/>
<circle cx="446.06" cy="248.25" r="2.95" fill="#ff008b"/>
<circle cx="425.58" cy="155.30" r="2.95" fill="#9c48e0"/>
<circle cx="454.44" cy="80.90" r="2.95" fill="#9351e8"/>
<circle cx="393.81" cy="164.00" r="2.95" fill="#008dff"/>
<circle cx="453.79" cy="203.40" r="2.95" fill="#9c48e0"/>
<circle cx="408.69" cy="73.20" r="2.95" fill="#008dff"/>
<circle cx="447.48" cy="279.90" r="2.95" fill="#964ee5"/>
<circle cx="523.52" cy="161.10" r="2.95" fill="#ff0051"/>
<circle cx="388.92" cy="158.20" r="2.95" fill="#008dff"/>
<circle cx="445.73" cy="232.35" r="2.95" fill="#994be2"/>
<circle cx="489.84" cy="123.90" r="2.95" fill="#ff0051"/>
<circle cx="451.44" cy="269.30" r="2.95" fill="#008dff"/>
<circle cx="448.29" cy="367.35" r="2.95" fill="#ff0051"/>
<circle cx="427.09" cy="118.30" r="2.95" fill="#964ee5"/>
<circle cx="494.30" cy="115.50" r="2.95" fill="#ff0088"/>
<circle cx="454.55" cy="282.55" r="2.95" fill="#994be2"/>
<circle cx="444.29" cy="242.95" r="2.95" fill="#994be2"/>
<circle cx="493.73" cy="121.10" r="2.95" fill="#ff008f"/>
<circle cx="296.02" cy="118.30" r="2.95" fill="#008dff"/>
<circle cx="508.98" cy="161.10" r="2.95" fill="#ff0051"/>
<circle cx="422.50" cy="166.90" r="2.95" fill="#008dff"/>
<circle cx="423.26" cy="198.00" r="2.95" fill="#008dff"/>
<circle cx="428.80" cy="240.30" r="2.95" fill="#008dff"/>
<circle cx="439.36" cy="126.70" r="2.95" fill="#ce0cbc"/>
<circle cx="474.96" cy="200.70" r="2.95" fill="#964ee5"/>
<circle cx="489.74" cy="112.70" r="2.95" fill="#ff0051"/>
<circle cx="449.10" cy="126.70" r="2.95" fill="#ff008f"/>
<circle cx="566.93" cy="123.90" r="2.95" fill="#ff0051"/>
<circle cx="511.45" cy="121.10" r="2.95" fill="#ff0051"/>
<circle cx="469.62" cy="319.50" r="2.95" fill="#008dff"/>
<circle cx="439.51" cy="359.10" r="2.95" fill="#ff0051"/>
<circle cx="450.61" cy="364.60" r="2.95" fill="#ff0092"/>
<circle cx="453.92" cy="271.95" r="2.95" fill="#994be2"/>
<circle cx="573.31" cy="118.30" r="2.95" fill="#ff0051"/>
<circle cx="462.32" cy="198.00" r="2.95" fill="#8f54ea"/>
<circle cx="433.58" cy="158.20" r="2.95" fill="#3574ff"/>
<circle cx="456.67" cy="361.85" r="2.95" fill="#994be2"/>
<circle cx="501.30" cy="93.50" r="2.95" fill="#d205ba"/>
<circle cx="455.27" cy="269.30" r="2.95" fill="#d205ba"/>
<circle cx="330.12" cy="115.50" r="2.95" fill="#008dff"/>
<circle cx="449.21" cy="200.70" r="2.95" fill="#008dff"/>
<circle cx="332.03" cy="118.30" r="2.95" fill="#008dff"/>
<circle cx="455.18" cy="322.15" r="2.95" fill="#9351e8"/>
<circle cx="432.55" cy="200.70" r="2.95" fill="#d500b8"/>
<circle cx="416.48" cy="79.00" r="2.95" fill="#9c48e0"/>
<circle cx="506.36" cy="73.20" r="2.95" fill="#9c48e0"/>
<circle cx="419.17" cy="158.20" r="2.95" fill="#008dff"/>
<circle cx="447.91" cy="158.20" r="2.95" fill="#d900b6"/>
<circle cx="417.64" cy="121.10" r="2.95" fill="#9f45dd"/>
<circle cx="554.96" cy="161.10" r="2.95" fill="#ff0051"/>
<circle cx="475.47" cy="242.95" r="2.95" fill="#ff0051"/>
<circle cx="334.84" cy="123.90" r="2.95" fill="#008dff"/>
<circle cx="437.73" cy="200.70" r="2.95" fill="#ce0cbc"/>
<circle cx="604.67" cy="121.10" r="2.95" fill="#ff0051"/>
<circle cx="326.86" cy="123.90" r="2.95" fill="#008dff"/>
<circle cx="441.92" cy="248.25" r="2.95" fill="#ff0099"/>
<circle cx="507.84" cy="93.50" r="2.95" fill="#ff0096"/>
<circle cx="430.94" cy="149.50" r="2.95" fill="#9c48e0"/>
<circle cx="389.90" cy="121.10" r="2.95" fill="#0078ff"/>
<circle cx="533.80" cy="123.90" r="2.95" fill="#ff0051"/>
<circle cx="481.80" cy="118.30" r="2.95" fill="#ff0085"/>
<circle cx="362.66" cy="121.10" r="2.95" fill="#008dff"/>
<circle cx="421.70" cy="164.00" r="2.95" fill="#008dff"/>
<circle cx="427.93" cy="200.70" r="2.95" fill="#008dff"/>
<circle cx="465.72" cy="322.15" r="2.95" fill="#008dff"/>
<circle cx="453.95" cy="356.35" r="2.95" fill="#994be2"/>
<circle cx="480.15" cy="158.20" r="2.95" fill="#ff0051"/>
<circle cx="333.88" cy="81.90" r="2.95" fill="#008dff"/>
<circle cx="530.62" cy="115.50" r="2.95" fill="#ff0051"/>
<circle cx="451.16" cy="161.10" r="2.95" fill="#ff0088"/>
<circle cx="613.23" cy="121.10" r="2.95" fill="#ff0051"/>
<circle cx="490.21" cy="198.00" r="2.95" fill="#008dff"/>
<circle cx="531.46" cy="121.10" r="2.95" fill="#ff0051"/>
<circle cx="547.47" cy="121.10" r="2.95" fill="#ff0051"/>
<circle cx="460.47" cy="359.10" r="2.95" fill="#0078ff"/>
<circle cx="501.41" cy="81.90" r="2.95" fill="#ff0092"/>
<circle cx="442.51" cy="314.20" r="2.95" fill="#ff0051"/>
<circle cx="390.86" cy="158.20" r="2.95" fill="#008dff"/>
<circle cx="405.92" cy="79.00" r="2.95" fill="#008dff"/>
<circle cx="437.63" cy="189.90" r="2.95" fill="#ff0051"/>
<circle cx="469.58" cy="240.30" r="2.95" fill="#ff0051"/>
<circle cx="461.64" cy="282.55" r="2.95" fill="#ff0092"/>
<circle cx="305.45" cy="118.30" r="2.95" fill="#008dff"/>
<circle cx="474.34" cy="240.30" r="2.95" fill="#ff0051"/>
<circle cx="423.51" cy="203.40" r="2.95" fill="#ff0051"/>
<circle cx="442.05" cy="316.85" r="2.95" fill="#ff0051"/>
<circle cx="295.71" cy="121.10" r="2.95" fill="#008dff"/>
<circle cx="476.31" cy="198.00" r="2.95" fill="#008dff"/>
<circle cx="390.92" cy="155.30" r="2.95" fill="#008dff"/>
<circle cx="507.84" cy="90.60" r="2.95" fill="#ff0051"/>
<circle cx="609.65" cy="121.10" r="2.95" fill="#ff0051"/>
<circle cx="289.88" cy="123.90" r="2.95" fill="#008dff"/>
<circle cx="384.90" cy="158.20" r="2.95" fill="#008dff"/>
<circle cx="457.91" cy="240.30" r="2.95" fill="#ff0051"/>
<circle cx="516.63" cy="81.90" r="2.95" fill="#ff0096"/>
<circle cx="351.68" cy="121.10" r="2.95" fill="#008dff"/>
<circle cx="464.96" cy="282.55" r="2.95" fill="#ff0092"/>
<circle cx="443.40" cy="161.10" r="2.95" fill="#8f54ea"/>
<circle cx="391.78" cy="161.10" r="2.95" fill="#008dff"/>
<circle cx="432.65" cy="195.30" r="2.95" fill="#008dff"/>
<circle cx="444.35" cy="200.70" r="2.95" fill="#e200b1"/>
<circle cx="451.16" cy="277.25" r="2.95" fill="#964ee5"/>
<circle cx="444.95" cy="123.90" r="2.95" fill="#ff0082"/>
<circle cx="442.12" cy="200.70" r="2.95" fill="#ce0cbc"/>
<circle cx="471.50" cy="161.10" r="2.95" fill="#ff0092"/>
<circle cx="469.17" cy="200.70" r="2.95" fill="#008dff"/>
<circle cx="498.66" cy="121.10" r="2.95" fill="#ff0051"/>
<circle cx="340.06" cy="123.90" r="2.95" fill="#008dff"/>
<circle cx="447.16" cy="229.70" r="2.95" fill="#9f45dd"/>
<circle cx="349.56" cy="73.20" r="2.95" fill="#008dff"/>
<circle cx="451.86" cy="348.10" r="2.95" fill="#ff0099"/>
<circle cx="527.28" cy="164.00" r="2.95" fill="#ff0051"/>
<circle cx="483.60" cy="203.40" r="2.95" fill="#008dff"/>
<circle cx="486.45" cy="84.80" r="2.95" fill="#e200b1"/>
<circle cx="415.95" cy="84.80" r="2.95" fill="#008dff"/>
<circle cx="426.37" cy="164.00" r="2.95" fill="#008dff"/>
<circle cx="439.93" cy="281.25" r="2.95" fill="#ff0051"/>
<circle cx="544.80" cy="115.50" r="2.95" fill="#ff0051"/>
<circle cx="447.35" cy="271.95" r="2.95" fill="#ff0051"/>
<circle cx="474.41" cy="237.65" r="2.95" fill="#ff0051"/>
<circle cx="484.97" cy="161.10" r="2.95" fill="#ff0051"/>
<circle cx="488.00" cy="203.40" r="2.95" fill="#008dff"/>
<circle cx="460.69" cy="242.95" r="2.95" fill="#ff0051"/>
<circle cx="433.90" cy="172.70" r="2.95" fill="#3f73ff"/>
<circle cx="474.66" cy="206.10" r="2.95" fill="#3f73ff"/>
<circle cx="339.33" cy="118.30" r="2.95" fill="#008dff"/>
<circle cx="447.85" cy="322.15" r="2.95" fill="#ff0051"/>
<circle cx="471.62" cy="242.95" r="2.95" fill="#ff0051"/>
<circle cx="463.75" cy="274.60" r="2.95" fill="#ff0099"/>
<circle cx="442.29" cy="115.50" r="2.95" fill="#ff0085"/>
<circle cx="437.75" cy="123.90" r="2.95" fill="#ff008b"/>
<circle cx="433.87" cy="198.00" r="2.95" fill="#ff0051"/>
<circle cx="473.16" cy="121.10" r="2.95" fill="#ff0096"/>
<circle cx="331.61" cy="126.70" r="2.95" fill="#008dff"/>
<circle cx="445.74" cy="235.00" r="2.95" fill="#ff008f"/>
<circle cx="456.70" cy="356.35" r="2.95" fill="#4772ff"/>
<circle cx="442.02" cy="356.35" r="2.95" fill="#ff0051"/>
<circle cx="549.33" cy="118.30" r="2.95" fill="#ff0051"/>
<circle cx="446.52" cy="121.10" r="2.95" fill="#ff008f"/>
<circle cx="439.40" cy="121.10" r="2.95" fill="#df00b3"/>
<circle cx="513.64" cy="81.90" r="2.95" fill="#ff008b"/>
<circle cx="384.55" cy="164.00" r="2.95" fill="#008dff"/>
<circle cx="412.31" cy="76.10" r="2.95" fill="#008dff"/>
<circle cx="494.06" cy="118.30" r="2.95" fill="#ff0051"/>
<circle cx="388.50" cy="155.30" r="2.95" fill="#008dff"/>
<circle cx="481.04" cy="123.90" r="2.95" fill="#ff0051"/>
<circle cx="445.14" cy="324.80" r="2.95" fill="#ff0051"/>
<circle cx="341.80" cy="121.10" r="2.95" fill="#008dff"/>
<circle cx="445.58" cy="115.50" r="2.95" fill="#ff0051"/>
<circle cx="451.57" cy="361.85" r="2.95" fill="#ff008b"/>
<circle cx="419.05" cy="164.00" r="2.95" fill="#008dff"/>
<circle cx="437.32" cy="169.80" r="2.95" fill="#e200b1"/>
<circle cx="460.75" cy="123.90" r="2.95" fill="#ff008b"/>
<circle cx="418.18" cy="76.10" r="2.95" fill="#a242da"/>
<circle cx="430.36" cy="169.80" r="2.95" fill="#4772ff"/>
<circle cx="473.79" cy="118.30" r="2.95" fill="#ff0051"/>
<circle cx="440.99" cy="206.10" r="2.95" fill="#d205ba"/>
<circle cx="372.25" cy="158.20" r="2.95" fill="#008dff"/>
<circle cx="395.53" cy="83.40" r="2.95" fill="#008dff"/>
<circle cx="383.41" cy="121.10" r="2.95" fill="#0078ff"/>
<circle cx="461.25" cy="287.85" r="2.95" fill="#ff008f"/>
<circle cx="442.22" cy="121.10" r="2.95" fill="#ff0099"/>
<circle cx="437.83" cy="164.00" r="2.95" fill="#9c48e0"/>
<circle cx="444.36" cy="198.00" r="2.95" fill="#9c48e0"/>
<circle cx="521.11" cy="84.80" r="2.95" fill="#ff0051"/>
<circle cx="528.96" cy="158.20" r="2.95" fill="#ff0051"/>
<circle cx="507.46" cy="84.80" r="2.95" fill="#ff0092"/>
<circle cx="451.29" cy="367.35" r="2.95" fill="#ff0099"/>
<circle cx="443.62" cy="126.70" r="2.95" fill="#a242da"/>
<circle cx="436.23" cy="211.50" r="2.95" fill="#ff0051"/>
<circle cx="406.67" cy="121.10" r="2.95" fill="#9c48e0"/>
<circle cx="443.77" cy="285.20" r="2.95" fill="#ff0051"/>
<circle cx="566.62" cy="121.10" r="2.95" fill="#ff0051"/>
<circle cx="505.76" cy="161.10" r="2.95" fill="#ff0051"/>
<circle cx="420.85" cy="84.80" r="2.95" fill="#964ee5"/>
<circle cx="519.44" cy="155.30" r="2.95" fill="#ff0099"/>
<circle cx="451.10" cy="356.35" r="2.95" fill="#ff0099"/>
<circle cx="472.84" cy="206.10" r="2.95" fill="#008dff"/>
<circle cx="451.13" cy="235.00" r="2.95" fill="#994be2"/>
<circle cx="572.14" cy="121.10" r="2.95" fill="#ff0051"/>
<circle cx="396.55" cy="161.10" r="2.95" fill="#008dff"/>
<circle cx="452.30" cy="311.55" r="2.95" fill="#ff0092"/>
<circle cx="434.54" cy="279.90" r="2.95" fill="#008dff"/>
<circle cx="417.57" cy="161.10" r="2.95" fill="#008dff"/>
<circle cx="478.40" cy="200.70" r="2.95" fill="#9c48e0"/>
<circle cx="452.16" cy="240.30" r="2.95" fill="#008dff"/>
<circle cx="649.64" cy="81.90" r="2.95" fill="#ff0051"/>
<circle cx="451.81" cy="229.70" r="2.95" fill="#008dff"/>
<circle cx="387.36" cy="161.10" r="2.95" fill="#008dff"/>
<circle cx="447.84" cy="356.35" r="2.95" fill="#ff0096"/>
<circle cx="447.49" cy="237.65" r="2.95" fill="#a53fd7"/>
<circle cx="435.75" cy="121.10" r="2.95" fill="#a53fd7"/>
<circle cx="450.71" cy="118.30" r="2.95" fill="#ff0051"/>
<circle cx="476.15" cy="203.40" r="2.95" fill="#a53fd7"/>
<circle cx="461.41" cy="277.25" r="2.95" fill="#ff0082"/>
<circle cx="528.37" cy="161.10" r="2.95" fill="#ff0051"/>
<circle cx="389.01" cy="164.00" r="2.95" fill="#008dff"/>
<circle cx="527.41" cy="118.30" r="2.95" fill="#ff0051"/>
<circle cx="435.79" cy="158.20" r="2.95" fill="#ce0cbc"/>
<circle cx="486.42" cy="198.00" r="2.95" fill="#008dff"/>
<circle cx="570.91" cy="161.10" r="2.95" fill="#ff0051"/>
<circle cx="453.49" cy="121.10" r="2.95" fill="#ff0082"/>
<circle cx="356.57" cy="121.10" r="2.95" fill="#008dff"/>
<circle cx="495.67" cy="81.90" r="2.95" fill="#ff0088"/>
<circle cx="446.87" cy="242.95" r="2.95" fill="#008dff"/>
<circle cx="464.64" cy="121.10" r="2.95" fill="#ff0082"/>
<circle cx="471.58" cy="203.40" r="2.95" fill="#008dff"/>
<circle cx="453.77" cy="198.00" r="2.95" fill="#008dff"/>
<circle cx="355.83" cy="76.10" r="2.95" fill="#008dff"/>
<circle cx="465.03" cy="198.00" r="2.95" fill="#dc00b5"/>
<circle cx="452.21" cy="271.95" r="2.95" fill="#a242da"/>
<circle cx="413.51" cy="84.80" r="2.95" fill="#9c48e0"/>
<circle cx="495.00" cy="76.10" r="2.95" fill="#ff0096"/>
<circle cx="434.70" cy="169.80" r="2.95" fill="#9c48e0"/>
<circle cx="455.37" cy="274.60" r="2.95" fill="#ff0092"/>
<circle cx="430.92" cy="118.30" r="2.95" fill="#994be2"/>
<circle cx="610.52" cy="118.30" r="2.95" fill="#ff0051"/>
<circle cx="450.38" cy="121.10" r="2.95" fill="#ff0096"/>
<circle cx="450.65" cy="237.65" r="2.95" fill="#3f73ff"/>
<circle cx="467.50" cy="161.10" r="2.95" fill="#ff0096"/>
<circle cx="450.58" cy="290.50" r="2.95" fill="#ff0051"/>
<circle cx="373.80" cy="155.30" r="2.95" fill="#008dff"/>
<circle cx="447.44" cy="361.85" r="2.95" fill="#ff0051"/>
<circle cx="500.56" cy="79.00" r="2.95" fill="#ff0088"/>
<circle cx="448.07" cy="277.25" r="2.95" fill="#ff0051"/>
<circle cx="480.24" cy="161.10" r="2.95" fill="#ff0051"/>
<circle cx="430.92" cy="200.70" r="2.95" fill="#ff0051"/>
<circle cx="612.96" cy="118.30" r="2.95" fill="#ff0051"/>
<circle cx="323.84" cy="80.40" r="2.95" fill="#008dff"/>
<circle cx="435.98" cy="79.00" r="2.95" fill="#964ee5"/>
<circle cx="605.59" cy="118.30" r="2.95" fill="#ff0051"/>
<circle cx="515.82" cy="155.30" r="2.95" fill="#ff0051"/>
<circle cx="430.89" cy="81.90" r="2.95" fill="#a53fd7"/>
<circle cx="490.22" cy="76.10" r="2.95" fill="#d900b6"/>
<circle cx="452.55" cy="319.50" r="2.95" fill="#ff008f"/>
<circle cx="450.70" cy="285.20" r="2.95" fill="#ff0051"/>
<circle cx="502.43" cy="87.70" r="2.95" fill="#ff0096"/>
<circle cx="461.13" cy="356.35" r="2.95" fill="#994be2"/>
<circle cx="512.99" cy="158.20" r="2.95" fill="#ff0051"/>
<circle cx="538.44" cy="123.90" r="2.95" fill="#ff0051"/>
<circle cx="459.44" cy="269.30" r="2.95" fill="#e200b1"/>
<circle cx="444.17" cy="274.60" r="2.95" fill="#008dff"/>
<circle cx="450.37" cy="232.35" r="2.95" fill="#008dff"/>
<circle cx="502.83" cy="161.10" r="2.95" fill="#ff0051"/>
<circle cx="451.81" cy="279.90" r="2.95" fill="#994be2"/>
<circle cx="457.18" cy="200.70" r="2.95" fill="#008dff"/>
<circle cx="435.65" cy="118.30" r="2.95" fill="#ff0092"/>
<circle cx="433.67" cy="155.30" r="2.95" fill="#9351e8"/>
<circle cx="286.56" cy="121.10" r="2.95" fill="#008dff"/>
<circle cx="507.36" cy="118.30" r="2.95" fill="#ff0051"/>
<circle cx="414.31" cy="200.70" r="2.95" fill="#ff0051"/>
<circle cx="370.50" cy="121.10" r="2.95" fill="#0079ff"/>
<circle cx="436.06" cy="206.10" r="2.95" fill="#dc00b5"/>
<circle cx="311.50" cy="81.90" r="2.95" fill="#008dff"/>
<circle cx="431.54" cy="166.90" r="2.95" fill="#9f45dd"/>
<circle cx="392.70" cy="158.20" r="2.95" fill="#008dff"/>
<circle cx="359.63" cy="81.90" r="2.95" fill="#008dff"/>
<circle cx="500.28" cy="161.10" r="2.95" fill="#ff0051"/>
<circle cx="489.95" cy="87.70" r="2.95" fill="#ff0088"/>
<circle cx="462.99" cy="235.00" r="2.95" fill="#ff0051"/>
<circle cx="335.47" cy="115.50" r="2.95" fill="#008dff"/>
<circle cx="522.08" cy="81.90" r="2.95" fill="#ff0051"/>
<circle cx="391.32" cy="118.30" r="2.95" fill="#2a75ff"/>
<circle cx="436.38" cy="240.30" r="2.95" fill="#008dff"/>
<circle cx="529.20" cy="115.50" r="2.95" fill="#ff0051"/>
<circle cx="557.56" cy="121.10" r="2.95" fill="#ff0051"/>
<circle cx="284.47" cy="118.30" r="2.95" fill="#008dff"/>
<circle cx="419.60" cy="200.70" r="2.95" fill="#ff0051"/>
<circle cx="445.23" cy="112.70" r="2.95" fill="#ff0096"/>
<circle cx="431.13" cy="161.10" r="2.95" fill="#008dff"/>
<line x1="452.0" y1="38" x2="452.0" y2="398.8" stroke="#999" stroke-width="1.7"/>
<line x1="266.3" y1="42.3" x2="266.3" y2="398.8" stroke="#999" stroke-width="1"/>
<line x1="265.8" y1="398.8" x2="675.8" y2="398.8" stroke="#444" stroke-width="1.7"/>
<line x1="266.30" y1="398.8" x2="266.30" y2="403.3" stroke="#444" stroke-width="1.2"/>
<line x1="366.95" y1="398.8" x2="366.95" y2="403.3" stroke="#444" stroke-width="1.2"/>
<line x1="467.60" y1="398.8" x2="467.60" y2="403.3" stroke="#444" stroke-width="1.2"/>
<line x1="568.25" y1="398.8" x2="568.25" y2="403.3" stroke="#444" stroke-width="1.2"/>
<line x1="668.90" y1="398.8" x2="668.90" y2="403.3" stroke="#444" stroke-width="1.2"/>
<line x1="274.50" y1="37.5" x2="274.50" y2="42.8" stroke="#333" stroke-width="1.2"/>
<line x1="363.25" y1="37.5" x2="363.25" y2="42.8" stroke="#333" stroke-width="1.2"/>
<line x1="452.00" y1="37.5" x2="452.00" y2="42.8" stroke="#333" stroke-width="1.2"/>
<line x1="540.75" y1="37.5" x2="540.75" y2="42.8" stroke="#333" stroke-width="1.2"/>
<line x1="629.50" y1="37.5" x2="629.50" y2="42.8" stroke="#333" stroke-width="1.2"/>
<rect x="700.9" y="42.4" width="4" height="356.2" fill="url(#cb)"/>
<text x="470.6" y="13.5" font-size="17" text-anchor="middle" >SHAP value (impact on model output)</text>
<text x="274.5" y="29.9" font-size="16" text-anchor="middle" >-10</text>
<text x="363.25" y="29.9" font-size="16" text-anchor="middle" >-5</text>
<text x="452.0" y="29.9" font-size="16" text-anchor="middle" >0</text>
<text x="540.75" y="29.9" font-size="16" text-anchor="middle" >5</text>
<text x="629.5" y="29.9" font-size="16" text-anchor="middle" >10</text>
<text x="255.9" y="88.5" font-size="18.2" text-anchor="end" >Water transport freight</text>
<text x="255.9" y="128.1" font-size="18.2" text-anchor="end" >Highway freight</text>
<text x="255.9" y="167.70000000000002" font-size="18.2" text-anchor="end" >Civil aviation passenger</text>
<text x="255.9" y="207.3" font-size="18.2" text-anchor="end" >Highway passenger turnover</text>
<text x="255.9" y="246.9" font-size="18.2" text-anchor="end" >month</text>
<text x="255.9" y="286.5" font-size="18.2" text-anchor="end" >Passenger turnover</text>
<text x="255.9" y="326.1" font-size="18.2" text-anchor="end" >Water transport passenger</text>
<text x="255.9" y="365.70000000000005" font-size="18.2" text-anchor="end" >Water transport passenger turnover</text>
<text x="266.3" y="419.6" font-size="15" text-anchor="middle" >0</text>
<text x="366.95000000000005" y="419.6" font-size="15" text-anchor="middle" >1</text>
<text x="467.6" y="419.6" font-size="15" text-anchor="middle" >2</text>
<text x="568.25" y="419.6" font-size="15" text-anchor="middle" >3</text>
<text x="668.9000000000001" y="419.6" font-size="15" text-anchor="middle" >4</text>
<text x="470.6" y="439.8" font-size="17" text-anchor="middle" >Mean |SHAP| (Feature Importance)</text>
<text x="710.3" y="48.2" font-size="15.5" text-anchor="start" >High</text>
<text x="710.3" y="404" font-size="15.5" text-anchor="start" >Low</text>
<text x="753.0" y="222.4" font-size="17.5" text-anchor="middle" transform="rotate(-90 753.0 222.4)">Feature value</text>
</svg>
</body></html>
